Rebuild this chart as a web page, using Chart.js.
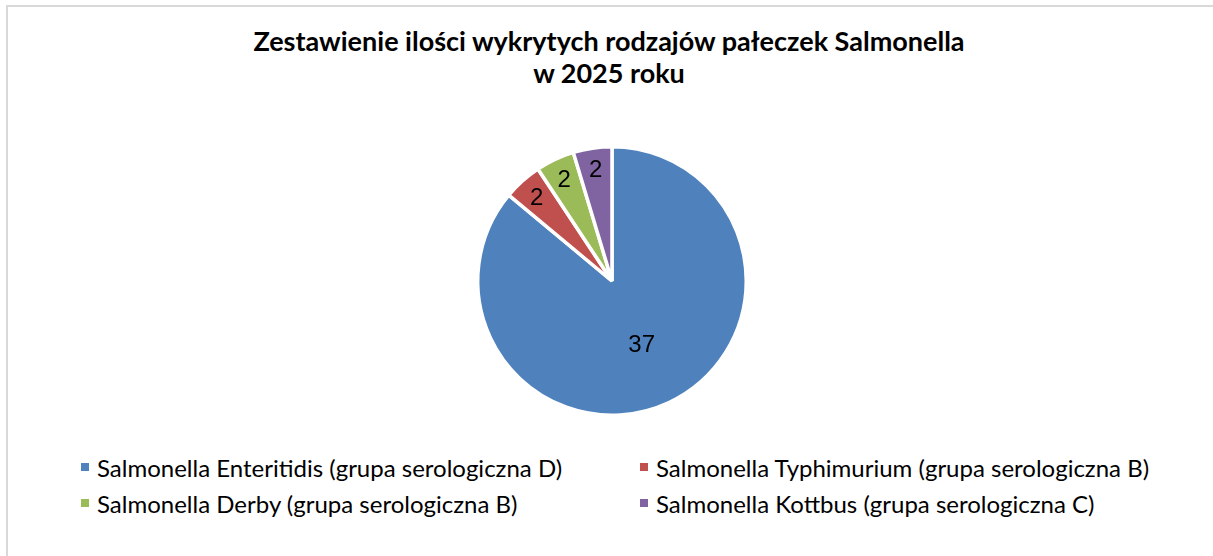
<!DOCTYPE html>
<html><head><meta charset="utf-8">
<script src="https://cdn.jsdelivr.net/npm/chart.js@4"></script>
<style>
html,body{margin:0;padding:0;background:#fff;width:1213px;height:556px;overflow:hidden;}
#frame{position:absolute;left:6px;top:5px;width:1240px;height:620px;border:2px solid #d9d9d9;box-sizing:border-box;}
#title{position:absolute;left:0;top:25px;width:1218px;text-align:center;font-family:Lato,"Liberation Sans",sans-serif;font-weight:bold;font-size:27px;line-height:32px;color:#000;}
#pieBox{position:absolute;left:472px;top:141px;width:280px;height:280px;}
#legend{position:absolute;left:0;top:0;}
.item{position:absolute;display:flex;align-items:center;height:36px;white-space:nowrap;font-family:Lato,"Liberation Sans",sans-serif;font-size:24px;color:#000;}
.sw{width:8px;height:8px;margin-right:8px;flex:none;}
</style></head>
<body>
<div id="frame"></div>
<div id="title"></div>
<div id="pieBox"><canvas id="c"></canvas></div>
<div id="legend"></div>
<script>
const titleLines = ["Zestawienie ilości wykrytych rodzajów pałeczek Salmonella", "w 2025 roku"];
const categories = [
  "Salmonella Enteritidis (grupa serologiczna D)",
  "Salmonella Typhimurium (grupa serologiczna B)",
  "Salmonella Derby (grupa serologiczna B)",
  "Salmonella Kottbus (grupa serologiczna C)"
];
const values = [37, 2, 2, 2];
const colors = ["#4F81BD", "#C0504D", "#9BBB59", "#8064A2"];

document.getElementById('title').innerHTML = titleLines.map(t => '<div>' + t + '</div>').join('');

const legend = document.getElementById('legend');
categories.forEach((name, i) => {
  const col = i % 2, row = Math.floor(i / 2);
  const el = document.createElement('div');
  el.className = 'item';
  el.style.left = (81 + col * 559) + 'px';
  el.style.top = (449 + row * 36) + 'px';
  el.innerHTML = '<span class="sw" style="background:' + colors[i] + '"></span><span>' + name + '</span>';
  legend.appendChild(el);
});

const sliceLabels = {
  id: 'sliceLabels',
  afterDatasetsDraw(chart) {
    const ctx = chart.ctx;
    const meta = chart.getDatasetMeta(0);
    const data = chart.data.datasets[0].data;
    ctx.save();
    ctx.font = '24px "Liberation Sans", Arial, sans-serif';
    ctx.fillStyle = '#000';
    ctx.textAlign = 'center';
    ctx.textBaseline = 'middle';
    meta.data.forEach((arc, i) => {
      const p = arc.getProps(['x', 'y', 'startAngle', 'endAngle', 'outerRadius'], true);
      const mid = (p.startAngle + p.endAngle) / 2;
      const f = (p.endAngle - p.startAngle) > Math.PI ? 0.52 : 0.84;
      ctx.fillText(String(data[i]), p.x + Math.cos(mid) * p.outerRadius * f, p.y + 1 + Math.sin(mid) * p.outerRadius * f);
    });
    ctx.restore();
  }
};

new Chart(document.getElementById('c'), {
  type: 'pie',
  data: {
    labels: categories,
    datasets: [{
      data: values,
      backgroundColor: colors,
      borderColor: '#ffffff',
      borderWidth: 3.5
    }]
  },
  options: {
    responsive: true,
    maintainAspectRatio: false,
    animation: false,
    layout: { padding: 4 },
    plugins: {
      legend: { display: false },
      tooltip: { enabled: false },
      title: { display: false }
    }
  },
  plugins: [sliceLabels]
});
</script>
</body></html>
